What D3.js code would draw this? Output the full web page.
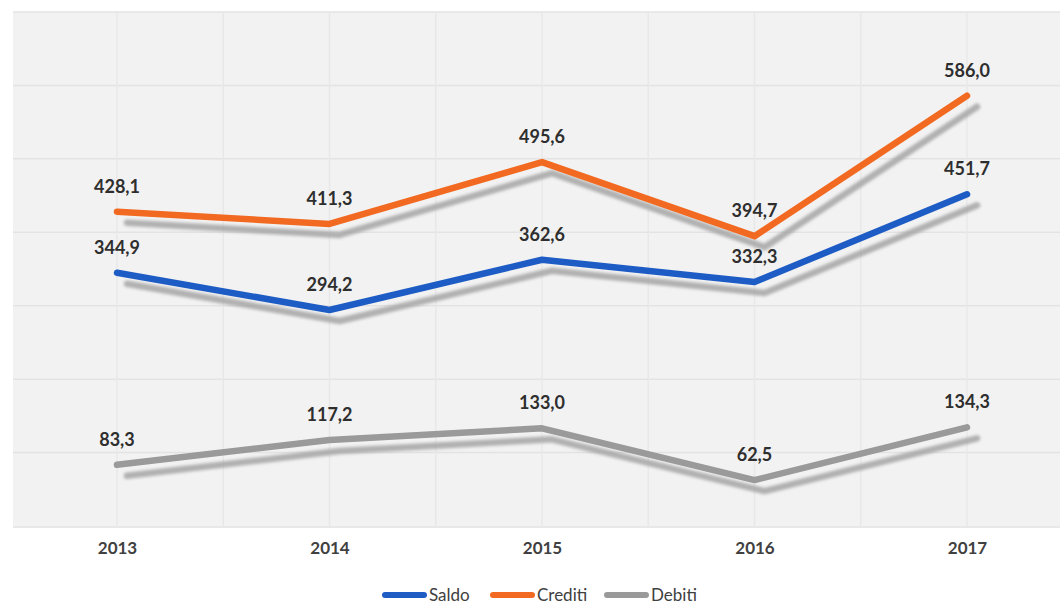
<!doctype html>
<html lang="it">
<head>
<meta charset="utf-8">
<title>Saldo, Crediti, Debiti 2013-2017</title>
<script src="https://d3js.org/d3.v7.min.js"></script>
<style>
  body { margin: 0; background: #fff; }
  text { font-family: Lato, "Open Sans", sans-serif; }
</style>
</head>
<body>
<svg id="chart" width="1060" height="604"></svg>
<script>
// data
const years = ["2013", "2014", "2015", "2016", "2017"];
const saldo = [344.9, 294.2, 362.6, 332.3, 451.7];
const crediti = [428.1, 411.3, 495.6, 394.7, 586.0];
const debiti = [83.3, 117.2, 133.0, 62.5, 134.3];
const seriesNames = ["Saldo", "Crediti", "Debiti"];
const seriesColors = ["#1f5cc4", "#f26a21", "#9a9a9a"];

const svg = d3.select("#chart");
const plot = { left: 13, right: 1060, top: 12, bottom: 526 };

const x = d3.scalePoint().domain(years).range([117, 967]);
const y = d3.scaleLinear().domain([0, 700]).range([plot.bottom, plot.top]);

const defs = svg.append("defs");
defs.append("filter").attr("id", "blur")
  .attr("x", "-5%").attr("y", "-20%").attr("width", "110%").attr("height", "140%")
  .append("feGaussianBlur").attr("stdDeviation", 1.8);
defs.append("filter").attr("id", "soft")
  .append("feGaussianBlur").attr("stdDeviation", 0.5);

// plot background
svg.append("rect")
  .attr("x", plot.left).attr("y", plot.top)
  .attr("width", plot.right - plot.left).attr("height", plot.bottom - plot.top)
  .attr("fill", "#f2f2f2");

// horizontal grid
svg.append("g")
  .selectAll("line")
  .data(d3.range(100, 701, 100))
  .join("line")
  .attr("x1", plot.left).attr("x2", plot.right)
  .attr("y1", d => y(d)).attr("y2", d => y(d))
  .attr("stroke", "#e3e3e3").attr("stroke-width", 1.5);

// vertical grid (at categories and half way)
const step = x.step();
const vx = d3.range(-0.5, years.length, 0.5).map(i => x(years[0]) + i * step);
svg.append("g")
  .selectAll("line")
  .data(vx.filter(v => v > plot.left + 2 && v < plot.right))
  .join("line")
  .attr("x1", d => d).attr("x2", d => d)
  .attr("y1", plot.top).attr("y2", plot.bottom)
  .attr("stroke", "#e8e8e8").attr("stroke-width", 1.5);

// bottom axis line
svg.append("line")
  .attr("x1", plot.left).attr("x2", plot.right)
  .attr("y1", plot.bottom + 1).attr("y2", plot.bottom + 1)
  .attr("stroke", "#e0e0e0").attr("stroke-width", 1.5);

const series = [saldo, crediti, debiti].map((vals, i) => ({
  name: seriesNames[i],
  color: seriesColors[i],
  values: vals.map((v, j) => ({ year: years[j], value: v }))
}));

const line = d3.line().x(d => x(d.year)).y(d => y(d.value));

// shadows
svg.append("g")
  .selectAll("path")
  .data(series)
  .join("path")
  .attr("d", d => line(d.values))
  .attr("transform", "translate(10,11)")
  .attr("fill", "none")
  .attr("stroke", "#a0a0a0")
  .attr("stroke-width", 6.5)
  .attr("stroke-linecap", "round")
  .attr("stroke-linejoin", "round")
  .attr("opacity", 0.8)
  .attr("filter", "url(#blur)");

// lines
svg.append("g")
  .selectAll("path")
  .data(series)
  .join("path")
  .attr("d", d => line(d.values))
  .attr("fill", "none")
  .attr("stroke", d => d.color)
  .attr("stroke-width", 6.5)
  .attr("stroke-linecap", "round")
  .attr("stroke-linejoin", "round")
  .attr("filter", "url(#soft)");

// value labels
const fmt = v => v.toFixed(1).replace(".", ",");
svg.append("g")
  .selectAll("g")
  .data(series)
  .join("g")
  .selectAll("text")
  .data(d => d.values)
  .join("text")
  .attr("x", d => x(d.year))
  .attr("y", d => y(d.value) - 19)
  .attr("text-anchor", "middle")
  .attr("font-size", 18)
  .attr("font-weight", "bold")
  .attr("fill", "#2e2e2e")
  .text(d => fmt(d.value));

// x axis labels
const xAxis = d3.axisBottom(x).tickSize(0).tickPadding(0);
const gx = svg.append("g")
  .attr("transform", `translate(0,${plot.bottom + 16})`)
  .call(xAxis);
gx.select(".domain").remove();
gx.selectAll("text")
  .attr("font-family", "Lato, sans-serif")
  .attr("font-size", 17)
  .attr("font-weight", "bold")
  .attr("fill", "#404040")
  .attr("dy", "0.71em");

// legend
const legendItems = [
  { name: "Saldo", color: seriesColors[0], x: 385 },
  { name: "Crediti", color: seriesColors[1], x: 493 },
  { name: "Debiti", color: seriesColors[2], x: 607 }
];
const lg = svg.append("g").attr("transform", "translate(0,595)");
const li = lg.selectAll("g").data(legendItems).join("g")
  .attr("transform", d => `translate(${d.x},0)`);
li.append("line")
  .attr("x1", 0).attr("x2", 39).attr("y1", 0).attr("y2", 0)
  .attr("stroke", d => d.color).attr("stroke-width", 6)
  .attr("stroke-linecap", "round");
li.append("text")
  .attr("x", 44).attr("y", 0).attr("dy", "0.35em")
  .attr("font-size", 17)
  .attr("fill", "#404040")
  .text(d => d.name);
</script>
</body>
</html>
